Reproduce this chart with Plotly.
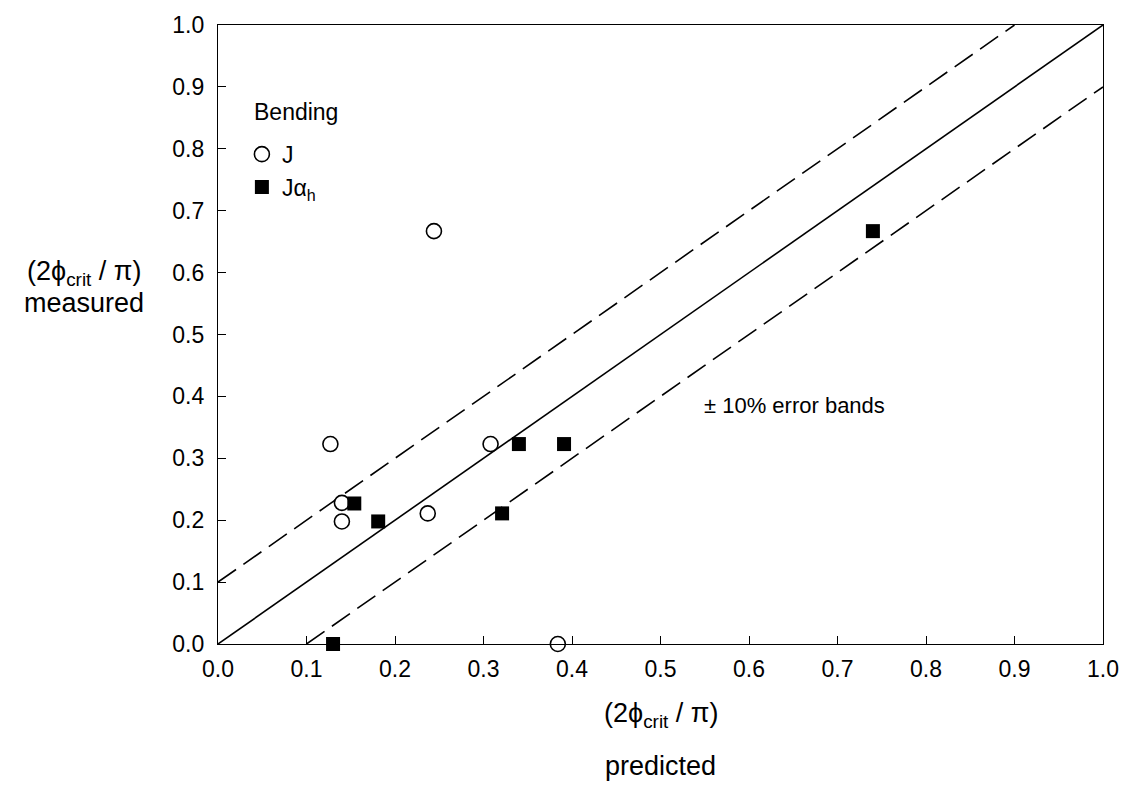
import plotly.graph_objects as go

# Predicted vs. measured critical angle (2*phi_crit/pi), bending tests
j_pred = [0.127, 0.140, 0.140, 0.237, 0.244, 0.308, 0.384]
j_meas = [0.323, 0.228, 0.198, 0.211, 0.667, 0.323, 0.000]

ja_pred = [0.130, 0.154, 0.181, 0.321, 0.340, 0.391, 0.740]
ja_meas = [0.000, 0.227, 0.198, 0.211, 0.323, 0.323, 0.667]

# Line of perfect agreement and the +/-10% bands
ideal_x = [0.0, 1.0]
ideal_y = [0.0, 1.0]
upper_x = [0.0, 0.9]
upper_y = [0.1, 1.0]
lower_x = [0.1, 1.0]
lower_y = [0.0, 0.9]

tick_vals = [0.0, 0.1, 0.2, 0.3, 0.4, 0.5, 0.6, 0.7, 0.8, 0.9, 1.0]
tick_text = ["0.0", "0.1", "0.2", "0.3", "0.4", "0.5", "0.6", "0.7", "0.8", "0.9", "1.0"]

FONT = "Liberation Sans, Arial, sans-serif"

fig = go.Figure()

fig.add_trace(go.Scatter(x=ideal_x, y=ideal_y, mode="lines",
                         line=dict(color="black", width=1.6),
                         showlegend=False, hoverinfo="skip"))
fig.add_trace(go.Scatter(x=upper_x, y=upper_y, mode="lines",
                         line=dict(color="black", width=1.6, dash="22px,9px"),
                         showlegend=False, hoverinfo="skip"))
fig.add_trace(go.Scatter(x=lower_x, y=lower_y, mode="lines",
                         line=dict(color="black", width=1.6, dash="22px,9px"),
                         showlegend=False, hoverinfo="skip"))

fig.add_trace(go.Scatter(
    x=j_pred, y=j_meas, mode="markers", name="J", legendgroup="a",
    marker=dict(symbol="circle", size=15, color="white",
                line=dict(color="black", width=1.6)),
    cliponaxis=False,
))
fig.add_trace(go.Scatter(
    x=ja_pred, y=ja_meas, mode="markers", name="J\u03b1<sub>h</sub>", legendgroup="b",
    marker=dict(symbol="square", size=14, color="black",
                line=dict(color="black", width=0)),
    cliponaxis=False,
))

axis_common = dict(
    range=[0, 1], tickvals=tick_vals, ticktext=tick_text,
    ticks="inside", ticklen=8, tickwidth=1, tickcolor="black",
    showline=True, linecolor="black", linewidth=1.3, mirror=True,
    showgrid=False, zeroline=False,
    tickfont=dict(family=FONT, size=23, color="black"),
)

fig.update_xaxes(**axis_common, ticklabelstandoff=4)
fig.update_yaxes(**axis_common, ticklabelstandoff=8)

title_font = dict(family=FONT, size=27, color="black")
phi_label = "(2\u03d5<sub>crit</sub> / \u03c0)"

fig.add_annotation(x=0.5, y=-0.115, xref="paper", yref="paper",
                   text=phi_label, showarrow=False, font=title_font,
                   xanchor="center", yanchor="middle")
fig.add_annotation(x=0.5, y=-0.197, xref="paper", yref="paper",
                   text="predicted", showarrow=False, font=title_font,
                   xanchor="center", yanchor="middle")
fig.add_annotation(x=-0.151, y=0.600, xref="paper", yref="paper",
                   text=phi_label, showarrow=False, font=title_font,
                   xanchor="center", yanchor="middle")
fig.add_annotation(x=-0.151, y=0.551, xref="paper", yref="paper",
                   text="measured", showarrow=False, font=title_font,
                   xanchor="center", yanchor="middle")

# Legend heading
fig.add_annotation(x=0.038, y=0.860, xref="paper", yref="paper",
                   text="Bending", showarrow=False,
                   font=dict(family=FONT, size=23, color="black"),
                   xanchor="left", yanchor="middle")

fig.add_annotation(x=0.547, y=0.386, xref="x", yref="y",
                   text="\u00b1 10% error bands", showarrow=False,
                   font=dict(family=FONT, size=22, color="black"),
                   xanchor="left", yanchor="middle")

fig.update_layout(
    width=1131, height=790,
    margin=dict(l=218, r=21, t=20, b=146),
    paper_bgcolor="white", plot_bgcolor="white",
    font=dict(family=FONT, size=22, color="black"),
    legend=dict(
        x=0.027, y=0.826, xanchor="left", yanchor="top",
        bgcolor="rgba(0,0,0,0)", borderwidth=0,
        traceorder="grouped", tracegroupgap=0,
        font=dict(family=FONT, size=23),
        itemwidth=30,
    ),
)

fig.write_html("out.html")
